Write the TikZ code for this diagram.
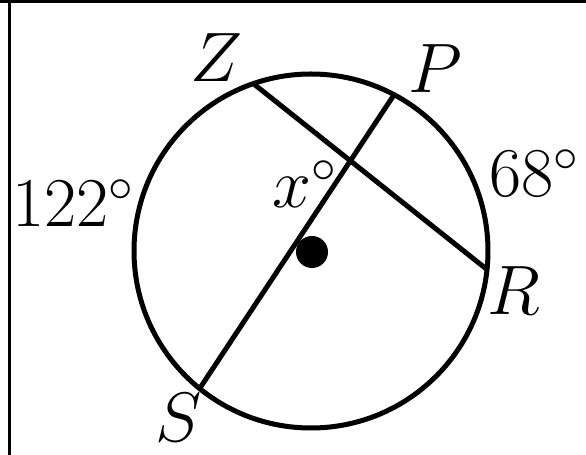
\documentclass[tikz,border=0pt]{standalone}
\usepackage{fix-cm}
\usepackage{amsmath}
\usetikzlibrary{calc}

\begin{document}
\begin{tikzpicture}[x=0.5pt, y=0.5pt, font=\fontsize{35}{40}\selectfont,
    lbl/.style={inner sep=0pt, anchor=base west}]
    \useasboundingbox (0,0) rectangle (586,455);
    % frame (only top and left edges show)
    \draw[line width=1.6pt] (0,453.5) -- (586,453.5);
    \draw[line width=1.6pt] (9.5,455) -- (9.5,0);
    % circle and its centre
    \coordinate (O) at (311,204);
    \draw[line width=2.5pt] (O) circle (177);
    \fill (O) ++(1,-1) circle (16);
    % points on the circle
    \foreach \name/\ang in {Z/109, P/62, R/-6, S/231} {
        \coordinate (\name) at ($(O)+(\ang:177)$);
    }
    % chords
    \draw[line width=2.5pt] (Z) -- (R);
    \draw[line width=2.5pt] (S) -- (P);
    % labels
    \node[lbl] (lZ) at (190,373) {$Z$};
    \node[lbl] (lP) at (408,362) {$P$};
    \node[lbl] (lR) at (487,140) {$R$};
    \node[lbl] (lS) at (155,13) {$S$};
    \node[lbl] (arcZS) at (12,228) {122$^\circ$};
    \node[lbl] (arcPR) at (489,258) {68$^\circ$};
    \node[lbl] (angx) at (272,247) {$x^\circ$};
\end{tikzpicture}
\end{document}
